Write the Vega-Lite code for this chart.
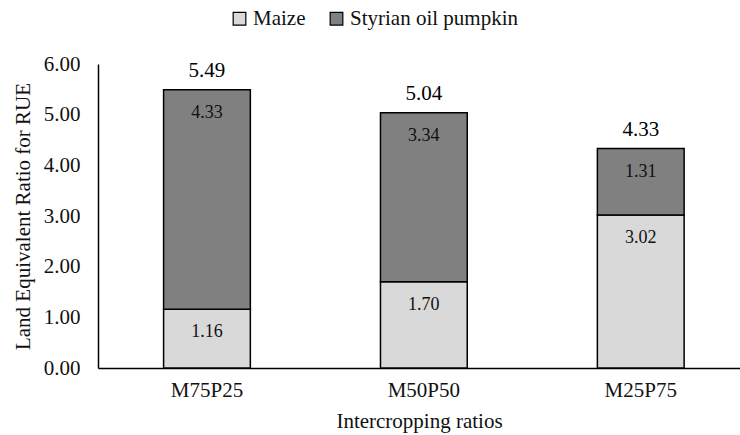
{
  "$schema": "https://vega.github.io/schema/vega-lite/v6.json",
  "autosize": {"type": "none"},
  "width": 642,
  "height": 304,
  "padding": {"left": 98, "top": 64, "right": 0, "bottom": 67},
  "background": "white",
  "config": {
    "view": {"stroke": null},
    "font": "Liberation Serif",
    "text": {"font": "Liberation Serif"}
  },
  "datasets": {
    "parts": [
      {"ratio": "M75P25", "crop": "Maize", "value": 1.16},
      {"ratio": "M75P25", "crop": "Styrian oil pumpkin", "value": 4.33},
      {"ratio": "M50P50", "crop": "Maize", "value": 1.70},
      {"ratio": "M50P50", "crop": "Styrian oil pumpkin", "value": 3.34},
      {"ratio": "M25P75", "crop": "Maize", "value": 3.02},
      {"ratio": "M25P75", "crop": "Styrian oil pumpkin", "value": 1.31}
    ],
    "totals": [
      {"ratio": "M75P25", "total": 5.49},
      {"ratio": "M50P50", "total": 5.04},
      {"ratio": "M25P75", "total": 4.33}
    ]
  },
  "layer": [
    {
      "data": {"name": "parts"},
      "mark": {"type": "bar", "stroke": "black", "strokeWidth": 1.5},
      "encoding": {
        "x": {
          "field": "ratio", "type": "nominal", "sort": ["M75P25", "M50P50", "M25P75"],
          "scale": {"paddingInner": 0.6, "paddingOuter": 0.28, "align": 0.54},
          "axis": {
            "title": "Intercropping ratios", "labelAngle": 0, "ticks": false,
            "domainColor": "black", "domainWidth": 1.5,
            "labelFont": "Liberation Serif", "labelFontSize": 21, "labelColor": "#111",
            "labelPadding": 11,
            "titleFont": "Liberation Serif", "titleFontSize": 21, "titleFontWeight": "normal", "titleColor": "#111",
            "titlePadding": 10
          }
        },
        "y": {
          "field": "value", "type": "quantitative", "stack": "zero",
          "scale": {"domain": [0, 6], "nice": false},
          "axis": {
            "title": "Land Equivalent Ratio for RUE", "format": ".2f", "values": [0, 1, 2, 3, 4, 5, 6],
            "grid": false, "ticks": false, "domainColor": "black", "domainWidth": 1.5,
            "labelFont": "Liberation Serif", "labelFontSize": 21, "labelColor": "#111", "labelPadding": 18,
            "titleFont": "Liberation Serif", "titleFontSize": 21, "titleFontWeight": "normal", "titleColor": "#111",
            "titlePadding": 10
          }
        },
        "color": {
          "field": "crop", "type": "nominal",
          "scale": {"domain": ["Maize", "Styrian oil pumpkin"], "range": ["#d9d9d9", "#808080"]},
          "legend": {
            "title": null, "orient": "none", "direction": "horizontal",
            "legendX": 131, "legendY": -56,
            "symbolType": "square", "symbolSize": 160, "symbolStrokeColor": "black", "symbolStrokeWidth": 1.2,
            "labelFont": "Liberation Serif", "labelFontSize": 21, "labelColor": "#111", "labelLimit": 400,
            "columnPadding": 20, "labelOffset": 3
          }
        },
        "order": {"field": "crop", "sort": "ascending"}
      }
    },
    {
      "data": {"name": "parts"},
      "mark": {"type": "text", "dy": 23, "baseline": "middle", "fontSize": 18, "color": "#111"},
      "encoding": {
        "x": {"field": "ratio", "type": "nominal", "sort": ["M75P25", "M50P50", "M25P75"]},
        "y": {"field": "value", "type": "quantitative", "stack": "zero"},
        "text": {"field": "value", "type": "quantitative", "format": ".2f"},
        "order": {"field": "crop", "sort": "ascending"},
        "detail": {"field": "crop"}
      }
    },
    {
      "data": {"name": "totals"},
      "mark": {"type": "text", "dy": -19, "baseline": "middle", "fontSize": 21, "color": "#000"},
      "encoding": {
        "x": {"field": "ratio", "type": "nominal", "sort": ["M75P25", "M50P50", "M25P75"]},
        "y": {"field": "total", "type": "quantitative"},
        "text": {"field": "total", "type": "quantitative", "format": ".2f"}
      }
    }
  ]
}
